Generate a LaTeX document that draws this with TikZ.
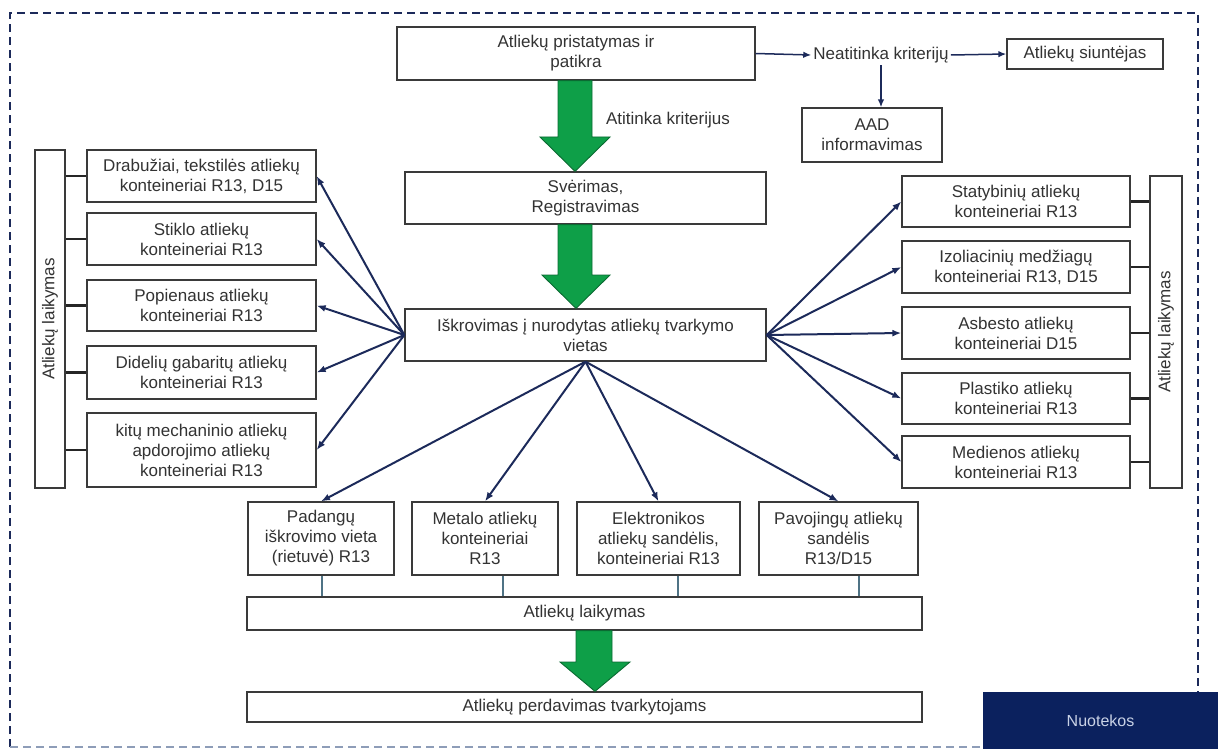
\documentclass[tikz,border=0pt]{standalone}
\usepackage{fontspec}
\setmainfont{Liberation Sans}
\usetikzlibrary{arrows.meta,calc}
\definecolor{navy}{HTML}{1C2A5A}
\definecolor{boxgray}{HTML}{3A3A3A}
\definecolor{textgray}{HTML}{333333}
\definecolor{gfill}{HTML}{0E9F48}
\definecolor{gdraw}{HTML}{0B6A32}
\definecolor{stubblue}{HTML}{4F7385}
\definecolor{nuot}{HTML}{0B215E}
\definecolor{nuottext}{HTML}{C9D2E6}
\definecolor{borderlight}{HTML}{8E9DB8}
\begin{document}
\begin{tikzpicture}[x=1pt,y=-1pt,
  box/.style={draw=boxgray, line width=1.3pt, fill=white, inner sep=1pt, align=center,
    text=textgray, font=\fontsize{17}{20}\selectfont},
  lbl/.style={text=textgray, font=\fontsize{17}{20}\selectfont, inner sep=2pt},
  arr/.style={draw=navy, line width=2pt, -{Latex[length=9pt,width=7pt]}},
  arrthin/.style={draw=navy, line width=1.5pt, -{Latex[length=8pt,width=6.5pt]}},
  garrow/.style={fill=gfill, draw=gdraw, line width=0.9pt},
  sidestub/.style={draw=black!85, line width=2.2pt},
  botstub/.style={draw=stubblue, line width=1.2pt},
  frame/.style={draw=navy, line width=2pt, dash pattern=on 8pt off 5pt}
]
\useasboundingbox (0,0) rectangle (1218,749);

% dashed frame
\draw[frame] (10,747) -- (10,13) -- (1198,13) -- (1198,692);
\draw[frame, draw=borderlight] (10,747) -- (983,747);

% central column
\node[box, minimum width=358, minimum height=53] (top) at (576,53.5) {Atliekų pristatymas ir\\patikra};
\node[box, minimum width=361, minimum height=52] (sver) at (585.5,198) {Svėrimas,\\Registravimas};
\node[box, minimum width=361, minimum height=52] (iskr) at (585.5,335) {Iškrovimas į nurodytas atliekų tvarkymo\\vietas};

% top right
\node[lbl] (neat) at (881,55) {Neatitinka kriterijų};
\node[box, minimum width=156, minimum height=30] (siunt) at (1085,54) {Atliekų siuntėjas};
\node[box, minimum width=140, minimum height=54] (aad) at (872,135) {AAD\\informavimas};
\node[lbl] (atit) at (668,120) {Atitinka kriterijus};

\draw[arrthin] (top.east) -- (neat.west);
\draw[arrthin] (neat.east) -- (siunt.west);
\draw[arrthin] (neat.south) -- (neat.south |- aad.north);

% green arrows
\draw[garrow] (558,0 |- top.south) -- (592,0 |- top.south) -- (592,137) -- (610,137)
  -- (575,0 |- sver.north) -- (540,137) -- (558,137) -- cycle;
\draw[garrow] (558,0 |- sver.south) -- (592,0 |- sver.south) -- (592,275) -- (610,275)
  -- (576,0 |- iskr.north) -- (542,275) -- (558,275) -- cycle;

% left column
\node[box, minimum width=30, minimum height=338] (Lbar) at (50,319) {};
\node[lbl, rotate=90] (Llab) at (Lbar) {Atliekų laikymas};
\node[box, minimum width=229, minimum height=52] (drab) at (201.5,176) {Drabužiai, tekstilės atliekų\\konteineriai R13, D15};
\node[box, minimum width=229, minimum height=52] (stik) at (201.5,239) {Stiklo atliekų\\konteineriai R13};
\node[box, minimum width=229, minimum height=51] (popi) at (201.5,305.5) {Popienaus atliekų\\konteineriai R13};
\node[box, minimum width=229, minimum height=53] (dide) at (201.5,372.5) {Didelių gabaritų atliekų\\konteineriai R13};
\node[box, minimum width=229, minimum height=74] (kitu) at (201.5,450) {kitų mechaninio atliekų\\apdorojimo atliekų\\konteineriai R13};

\foreach \n in {drab,stik,popi,dide,kitu}{
  \draw[sidestub] (Lbar.east |- \n.west) -- (\n.west);
  \draw[arr] (iskr.west) -- (\n.east);
}

% right column
\node[box, minimum width=32, minimum height=312] (Rbar) at (1166,332) {};
\node[lbl, rotate=90] (Rlab) at (Rbar) {Atliekų laikymas};
\node[box, minimum width=228, minimum height=51] (stat) at (1016,201.5) {Statybinių atliekų\\konteineriai R13};
\node[box, minimum width=228, minimum height=52] (izol) at (1016,267) {Izoliacinių medžiagų\\konteineriai R13, D15};
\node[box, minimum width=228, minimum height=52] (asbe) at (1016,333) {Asbesto atliekų\\konteineriai D15};
\node[box, minimum width=228, minimum height=51] (plas) at (1016,398.5) {Plastiko atliekų\\konteineriai R13};
\node[box, minimum width=228, minimum height=52] (medi) at (1016,462) {Medienos atliekų\\konteineriai R13};

\foreach \n in {stat,izol,asbe,plas,medi}{
  \draw[sidestub] (\n.east) -- (\n.east -| Rbar.west);
  \draw[arr] (iskr.east) -- (\n.west);
}

% bottom row
\node[box, minimum width=146, minimum height=73] (pada) at (321,538.5) {Padangų\\iškrovimo vieta\\(rietuvė) R13};
\node[box, minimum width=146, minimum height=73] (meta) at (485,538.5) {Metalo atliekų\\konteineriai\\R13};
\node[box, minimum width=163, minimum height=73] (elek) at (658.5,538.5) {Elektronikos\\atliekų sandėlis,\\konteineriai R13};
\node[box, minimum width=159, minimum height=73] (pavo) at (838.5,538.5) {Pavojingų atliekų\\sandėlis\\R13/D15};
\node[box, minimum width=675, minimum height=33] (laik) at (584.5,613.5) {Atliekų laikymas};
\node[box, minimum width=675, minimum height=30] (perd) at (584.5,707) {Atliekų perdavimas tvarkytojams};

\foreach \n in {pada,meta,elek,pavo}{
  \draw[arr] (iskr.south) -- (\n.north);
}

\coordinate (s1) at (322,0);
\coordinate (s2) at (503,0);
\coordinate (s3) at (678,0);
\coordinate (s4) at (859,0);
\draw[botstub] (pada.south -| s1) -- (laik.north -| s1);
\draw[botstub] (meta.south -| s2) -- (laik.north -| s2);
\draw[botstub] (elek.south -| s3) -- (laik.north -| s3);
\draw[botstub] (pavo.south -| s4) -- (laik.north -| s4);

\draw[garrow] (576,0 |- laik.south) -- (612,0 |- laik.south) -- (612,662) -- (630,662)
  -- (595,0 |- perd.north) -- (560,662) -- (576,662) -- cycle;

% Nuotekos
\node[fill=nuot, minimum width=235, minimum height=57, inner sep=0pt,
  text=nuottext, font=\fontsize{16}{19}\selectfont] (nuotek) at (1100.5,720.5) {Nuotekos};
\end{tikzpicture}
\end{document}
